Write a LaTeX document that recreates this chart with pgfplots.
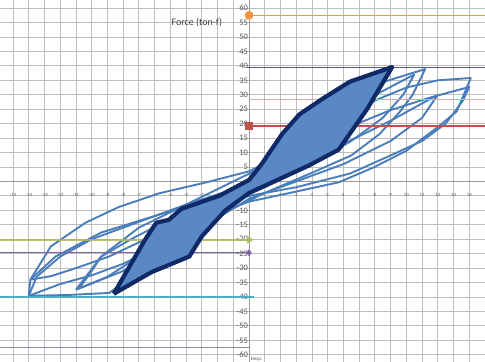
\documentclass[border=0pt]{standalone}
\usepackage{fontspec}
\setmainfont{Carlito}
\usepackage{pgfplots}
\pgfplotsset{compat=1.18}

\definecolor{loopblue}{RGB}{74,126,187}
\definecolor{loopfill}{RGB}{90,136,196}
\definecolor{envnavy}{RGB}{16,42,104}
\definecolor{gridgray}{RGB}{190,190,190}
\definecolor{labelgray}{RGB}{85,85,85}
\definecolor{refOrange}{RGB}{242,150,65}
\definecolor{refSlate}{RGB}{88,88,150}
\definecolor{refPink}{RGB}{228,165,165}
\definecolor{refRed}{RGB}{192,80,77}
\definecolor{refOlive}{RGB}{178,182,92}
\definecolor{refPurple}{RGB}{128,100,162}
\definecolor{refTeal}{RGB}{75,172,198}
\definecolor{refLavender}{RGB}{140,140,205}

\begin{document}
\begin{tikzpicture}
\begin{axis}[
  width=485bp, height=362bp, scale only axis,
  xmin=-15.83, xmax=15, ymin=-62.5, ymax=62.8,
  axis lines=middle,
  inner axis line style={-, draw=gray!80, line width=0.8bp},
  xtick={-15,...,-1,1,2,...,14},
  ytick={-60,-55,...,-5,5,10,...,60},
  grid=major,
  grid style={draw=gridgray, line width=0.9bp},
  major tick length=0pt,
  /pgf/number format/assume math mode=true,
  yticklabel style={font=\fontsize{8.5}{9}\selectfont, text=labelgray, inner sep=1pt},
  xticklabel style={font=\fontsize{4.8}{5}\selectfont, text=labelgray, yshift=-8bp},
  clip=false,
]

% cyclic load-displacement loops
\addplot[loopblue, line width=1.9bp, line join=round] coordinates {
  (-14.0,-39.6) (-13.9,-34) (-12.6,-22.5) (-10.4,-14.3) (-8.3,-8.9) (-5.7,-4.1)
  (-2.7,-0.3) (0,3.5) (2,9) (4,16) (6,22.5) (8,28) (10,32.5) (12,35) (14.1,35.8)
  (13.2,24.2) (11.9,18.4) (10,10.6) (7.9,4.8) (5.7,-0.3) (3,-3.5) (0,-7)
  (-2,-11) (-4,-17) (-6,-23) (-8,-28.5) (-10,-32.5) (-12,-35.5) (-14.0,-39.6)};
\addplot[loopblue, line width=1.9bp, line join=round] coordinates {
  (-13.9,-34) (-12.3,-26) (-9.4,-17.7) (-6.2,-12.3) (-2.7,-6.5) (0,-1) (2,4)
  (4,10) (6.4,18.9) (9,24.7) (11.5,29) (14.0,32.7)
  (13.6,28) (12.5,20) (11,14) (9,9) (6.4,2.7) (3,-2) (0,-5) (-3,-10)
  (-5.8,-18) (-8.9,-26) (-11,-30) (-12.6,-32.8) (-13.9,-34)};
\addplot[loopblue, line width=1.9bp, line join=round] coordinates {
  (-11,-37.5) (-9.4,-26) (-7,-16) (-4,-8) (-1,0) (2,8) (4,16) (6,26) (8,33.5) (11.2,38.9)
  (10.4,30) (9.6,24.2) (8.3,16.4) (6.5,9) (4,3) (1,-4) (-2,-12) (-5,-22) (-8,-31) (-11,-37.5)};
\addplot[loopblue, line width=1.9bp, line join=round] coordinates {
  (-10.8,-37) (-10,-31) (-9.4,-26) (-7.5,-20) (-5,-13) (-2,-5) (1,3) (3,10) (5,18) (7,27) (10.5,37)
  (9.8,30) (8.5,22) (6.5,14) (4,6) (1,-2) (-2,-9) (-4.5,-17) (-7,-26) (-9,-33) (-10.8,-37)};
\addplot[loopblue, line width=1.9bp, line join=round] coordinates {
  (12,30) (11,22) (9,14) (6,6) (3,0) (0,-6) (-3,-16) (-6,-28) (-8.9,-38.6) (-11.5,-39.3) (-14,-39.6)
  (-13.5,-33) (-12,-26) (-10,-20) (-7,-14) (-4,-8) (0,-1) (3,5) (6,13) (9,21) (12,30)};

% reference force levels
\addplot[refOrange, line width=1.6bp, mark=*, mark size=3.5bp, mark indices={1}] coordinates {(0,57.5) (15,57.5)};
\addplot[refSlate, line width=1.6bp] coordinates {(-0.1,39.5) (15,39.5)};
\addplot[refPink, line width=1.4bp] coordinates {(0,28.4) (15,28.4)};
\addplot[refRed, line width=1.6bp, mark=square*, mark size=3.2bp, mark indices={1}] coordinates {(0,19.2) (15,19.2)};
\addplot[refOlive, line width=2bp, opacity=0.85, mark=triangle*, mark size=2.5bp, mark indices={2},
  mark options={rotate=-90}] coordinates {(-15.83,-20.2) (0,-20.2)};
\addplot[refPurple, line width=1.4bp, mark=diamond*, mark size=2.5bp, mark indices={2}] coordinates {(-15.83,-24.7) (0,-24.7)};
\addplot[refTeal, line width=1.8bp] coordinates {(-15.83,-40) (0.3,-40)};
\addplot[refLavender, line width=1.4bp] coordinates {(-15.83,-57.4) (0,-57.4)};

% envelope cycle
\addplot[envnavy, line width=4.2bp, fill=loopfill, line join=round] coordinates {
  (-8.6,-38.9) (-7.7,-30.4) (-6.6,-20.1) (-5.9,-14.3) (-5.1,-13.3) (-4.3,-9.5)
  (-1.9,-5) (0,0.5) (0.8,6) (2.1,16.4) (3.2,23.2) (4.7,28.7) (6.4,34.5) (9.1,39.6)
  (7.5,25) (5.7,11) (3.8,5.5) (2,1) (0,-4) (-1.5,-10) (-3,-19) (-3.8,-26)
  (-6.2,-31.4) (-8.6,-38.9)};

\node[anchor=east, font=\fontsize{10}{11}\selectfont, text=black!75, inner sep=0pt]
  at (axis cs:-1.7,55) {Force (ton-f)};
\node[anchor=west, font=\fontsize{5}{5}\selectfont, text=labelgray, inner sep=0pt]
  at (axis cs:0.1,-61.6) {Desp.};
\end{axis}
\pgfresetboundingbox
\useasboundingbox (current axis.south west) rectangle (current axis.north east);
\end{tikzpicture}
\end{document}
